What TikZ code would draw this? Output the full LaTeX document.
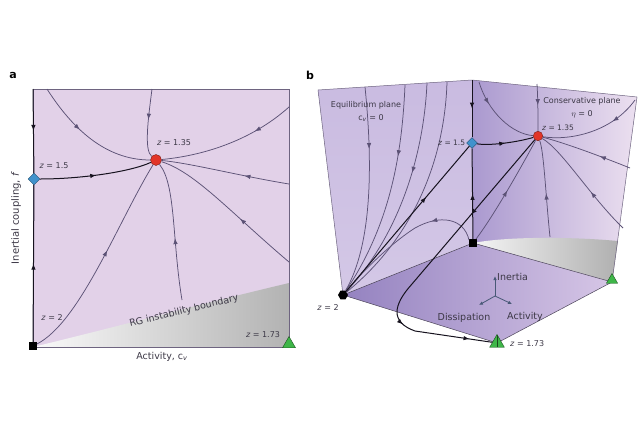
\documentclass[tikz,border=0pt]{standalone}
\usepackage{fontspec}
\setmainfont{DejaVu Sans}
\usetikzlibrary{arrows.meta, positioning, shapes.geometric, decorations.markings}

\definecolor{panelfill}{RGB}{226,209,232}
\definecolor{leftwall}{RGB}{204,190,226}
\definecolor{wallback}{RGB}{170,153,207}
\definecolor{wallfront}{RGB}{236,224,240}
\definecolor{floordark}{RGB}{148,130,192}
\definecolor{floorlight}{RGB}{214,198,230}
\definecolor{flowgray}{RGB}{92,82,118}
\definecolor{strongblack}{RGB}{22,18,30}
\definecolor{edgegray}{RGB}{110,100,128}
\definecolor{fixred}{RGB}{226,52,40}
\definecolor{fixblue}{RGB}{64,146,204}
\definecolor{fixgreen}{RGB}{62,182,72}
\definecolor{labelgray}{RGB}{60,56,70}
\definecolor{triadblue}{RGB}{72,88,118}

\tikzstyle{every picture} = [x=1pt, y=-1pt]
\tikzstyle{flowline} = [draw=flowgray, line width=0.75pt]
\tikzstyle{strongline} = [draw=strongblack, line width=1pt]
\tikzstyle{edgeline} = [draw=edgegray, line width=0.5pt]
\tikzstyle{flowarrow} = [postaction={decorate, decoration={markings, mark=at position #1 with {\arrow{Latex[length=6pt, width=4.5pt]}}}}]
\tikzstyle{redpoint} = [circle, fill=fixred, draw=fixred!55!black, line width=0.4pt, minimum size=11pt, inner sep=0pt]
\tikzstyle{bluepoint} = [diamond, fill=fixblue, draw=fixblue!55!black, line width=0.4pt, minimum size=12pt, inner sep=0pt]
\tikzstyle{blackpoint} = [rectangle, fill=black, minimum size=7.5pt, inner sep=0pt]
\tikzstyle{hexpoint} = [regular polygon, regular polygon sides=6, fill=black, minimum size=10pt, inner sep=0pt]
\tikzstyle{greenpoint} = [regular polygon, regular polygon sides=3, fill=fixgreen, draw=fixgreen!45!black, line width=0.4pt, minimum size=15pt, inner sep=0pt]
\tikzstyle{labeltext} = [font=\fontsize{8}{9}\selectfont, text=labelgray, inner sep=1pt]
\tikzstyle{axistext} = [font=\fontsize{9.5}{11}\selectfont, text=labelgray, inner sep=1pt]
\tikzstyle{planetext} = [font=\fontsize{8}{9}\selectfont, text=labelgray, inner sep=1pt]
\tikzstyle{paneltag} = [font=\fontsize{11}{12}\selectfont\bfseries, inner sep=0pt]

\begin{document}
\begin{tikzpicture}
\useasboundingbox[fill=white] (0,0) rectangle (639,426);

% panel a
\fill[panelfill] (33,89) rectangle (289,347);
\shade[left color=gray!4, right color=gray!60] (33,347) .. controls (120,326) and (200,304) .. (289,283) -- (289,347) -- cycle;
\draw[edgeline] (33,89) rectangle (289,347);

\node (a square) [blackpoint] at (33,346) {};
\node (a diamond) [bluepoint] at (34,179) {};
\node (a red) [redpoint] at (156,160) {};
\node (a triangle) [greenpoint] at (289,344) {};

\coordinate (a top) at (33,89);
\coordinate (a in 1) at (47,89);
\coordinate (a in 2) at (152,89);
\coordinate (a in 3) at (289,107);
\coordinate (a in 4) at (289,184);
\coordinate (a in 5) at (289,262);
\coordinate (a in 6) at (182,300);

\draw[flowline, flowarrow=0.4] (a in 1) .. controls (72,128) and (105,160) .. (a red);
\draw[flowline, flowarrow=0.45] (a in 2) .. controls (148,120) and (144,150) .. (a red);
\draw[flowline, flowarrow=0.3] (a in 3) .. controls (250,142) and (200,156) .. (a red);
\draw[flowline, flowarrow=0.35] (a in 4) .. controls (240,176) and (190,163) .. (a red);
\draw[flowline, flowarrow=0.4] (a in 5) .. controls (230,212) and (195,172) .. (a red);
\draw[flowline, flowarrow=0.45] (a in 6) .. controls (172,240) and (176,185) .. (a red);
\draw[flowline, flowarrow=0.55] (a square) .. controls (80,322) and (118,222) .. (a red);
\draw[strongline, flowarrow=0.5] (a diamond) .. controls (80,179) and (130,172) .. (a red);
\draw[strongline, flowarrow=0.5] (a square) -- (a diamond);
\draw[strongline, flowarrow=0.5] (a top) -- (a diamond);

\node (a tag) [paneltag] at (13,75) {a};
\node (a z red) [labeltext] at (174,143) {\textit{z} = 1.35};
\node (a z blue) [labeltext] at (54,166) {\textit{z} = 1.5};
\node (a z black) [labeltext] at (52,318) {\textit{z} = 2};
\node (a z green) [labeltext] at (263,335) {\textit{z} = 1.73};
\node (a boundary) [axistext, rotate=13.5] at (184,311) {RG instability boundary};
\node (a x label) [axistext] at (162,357) {Activity, c\textsubscript{\textit{v}}};
\node (a y label) [axistext, font=\fontsize{10}{11}\selectfont, rotate=90] at (16,218) {Inertial coupling, \textit{f}};

% panel b
\coordinate (b left top) at (318,90);
\coordinate (b back top) at (472,80);
\coordinate (b right top) at (637,97);
\coordinate (b corner) at (473,243);
\coordinate (b hex pos) at (343,295);
\coordinate (b right pos) at (612,282);
\coordinate (b front pos) at (497,343);

\shade[top color=leftwall!92!wallback, bottom color=leftwall!85!white] (b left top) -- (b back top) -- (b corner) -- (b hex pos) -- cycle;
\shade[left color=wallback, right color=wallfront] (b back top) -- (b right top) -- (b right pos) -- (b corner) -- cycle;
\shade[left color=white!92!gray, right color=gray!62] (b corner) .. controls (510,236) and (575,237) .. (618,241) -- (b right pos) -- cycle;
\shade[shading angle=-60, left color=floordark, right color=floorlight] (b hex pos) -- (b corner) -- (b right pos) -- (b front pos) -- cycle;

\draw[edgeline] (b hex pos) -- (b left top) -- (b back top) -- (b right top) -- (b right pos);
\draw[edgeline, draw=edgegray!70!black] (b hex pos) -- (b corner) -- (b right pos) -- (b front pos) -- cycle;

\node (b square) [blackpoint] at (b corner) {};
\node (b hex) [hexpoint] at (b hex pos) {};
\node (b diamond) [bluepoint, minimum size=11pt] at (472,143) {};
\node (b red) [redpoint, minimum size=9.5pt] at (538,136) {};
\node (b right tri) [greenpoint, minimum size=13pt] at (612,280) {};
\node (b front tri) [greenpoint, minimum size=17pt, path picture={\draw[fixgreen!40!black, line width=0.4pt] (path picture bounding box.north) -- (path picture bounding box.south);}] at (b front pos) {};

% equilibrium plane
\coordinate (b eq 1) at (365,87);
\coordinate (b eq 2) at (405,85);
\coordinate (b eq 3) at (427,83);
\coordinate (b eq 4) at (447,82);
\coordinate (b arc end) at (469,240);
\draw[flowline, flowarrow=0.3] (b eq 1) .. controls (373,165) and (372,245) .. (b hex);
\draw[flowline, flowarrow=0.33] (b eq 2) .. controls (402,155) and (390,225) .. (b hex);
\draw[flowline, flowarrow=0.4] (b eq 3) .. controls (424,150) and (402,232) .. (b hex);
\draw[flowline] (b eq 4) .. controls (445,150) and (420,232) .. (b hex);
\draw[flowline, flowarrow=0.3] (b arc end) .. controls (464,218) and (440,214) .. (415,228) .. controls (390,244) and (362,272) .. (b hex);
\draw[strongline, flowarrow=0.65] (b hex) -- (b diamond);

% back edge and conservative plane
\draw[strongline, flowarrow=0.5] (b back top) -- (b diamond);
\draw[strongline, flowarrow=0.5] (b square) -- (b diamond);
\draw[strongline, flowarrow=0.5] (b diamond) .. controls (490,146) and (518,142) .. (b red);

\coordinate (b con 1) at (479,82);
\coordinate (b con 2) at (537,84);
\coordinate (b con 3) at (635,100);
\coordinate (b con 4) at (630,168);
\coordinate (b con 5) at (623,228);
\coordinate (b con 6) at (550,237);
\draw[flowline, flowarrow=0.3] (b con 1) .. controls (488,112) and (512,134) .. (b red);
\draw[flowline, flowarrow=0.45] (b con 2) .. controls (538,100) and (538,118) .. (b red);
\draw[flowline, flowarrow=0.3] (b con 3) .. controls (612,132) and (570,141) .. (b red);
\draw[flowline, flowarrow=0.35] (b con 4) .. controls (600,156) and (565,143) .. (b red);
\draw[flowline, flowarrow=0.4] (b con 5) .. controls (590,196) and (562,150) .. (b red);
\draw[flowline, flowarrow=0.45] (b con 6) .. controls (546,200) and (544,152) .. (b red);
\draw[flowline, flowarrow=0.5] (b square) .. controls (495,214) and (524,162) .. (b red);

\draw[strongline, flowarrow=0.3, flowarrow=0.72, flowarrow=0.93] (b red) -- (412,284) .. controls (393,305) and (390,322) .. (415,331) -- (b front tri);

% axis triad
\coordinate (triad o) at (495,296);
\coordinate (triad up) at (495,276);
\coordinate (triad left) at (479,305);
\coordinate (triad right) at (512,304);
\draw[triadblue, line width=0.8pt, -{Latex[length=4pt, width=3.5pt]}] (triad o) -- (triad up);
\draw[triadblue, line width=0.8pt, -{Latex[length=4pt, width=3.5pt]}] (triad o) -- (triad left);
\draw[triadblue, line width=0.8pt, -{Latex[length=4pt, width=3.5pt]}] (triad o) -- (triad right);
\node (inertia) [axistext, anchor=west] at (496,277) {Inertia};
\node (dissipation) [axistext] at (464,318) {Dissipation};
\node (activity) [axistext] at (525,317) {Activity};

\node (b tag) [paneltag] at (310,75) {b};
\node (b eq name) [planetext] at (366,105) {Equilibrium plane};
\node (b eq value) [planetext] at (371,118) {c\textsubscript{\textit{v}} = 0};
\node (b con name) [planetext] at (582,101) {Conservative plane};
\node (b con value) [planetext] at (582,114) {$\eta$ = 0};
\node (b z blue) [planetext, font=\fontsize{7.5}{9}\selectfont, anchor=east] at (b diamond.west) {\textit{z} = 1.5};
\node (b z red) [planetext, font=\fontsize{7.5}{9}\selectfont] at (558,128) {\textit{z} = 1.35};
\node (b z hex) [labeltext] at (328,308) {\textit{z} = 2};
\node (b z front) [labeltext, anchor=west] at (509,344) {\textit{z} = 1.73};
\end{tikzpicture}
\end{document}
